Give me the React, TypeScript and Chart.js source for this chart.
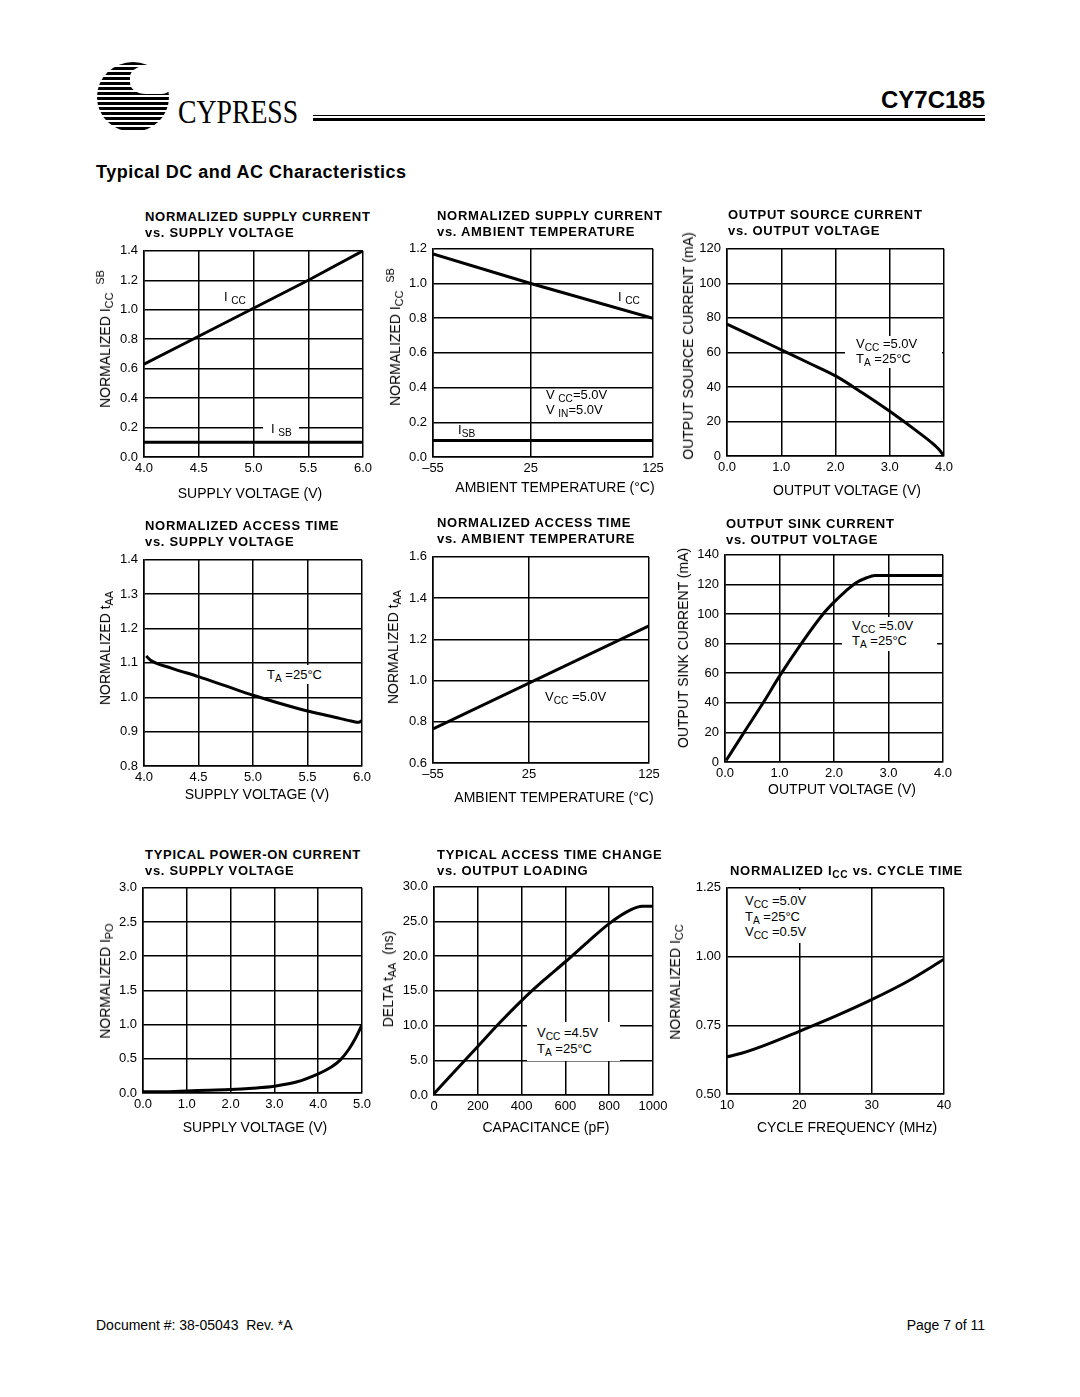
import React, { useEffect, useRef } from "react";
import { Chart, registerables } from "chart.js";

Chart.register(...registerables);

const FONT = '"Liberation Sans", Arial, Helvetica, sans-serif';

// ---------- Chart 1: Normalized supply current vs supply voltage ----------
const c1Voltage = [4.0, 4.5, 5.0, 5.5, 6.0];
const c1Icc = [0.63, 0.82, 1.01, 1.2, 1.4];
const c1Isb = [0.1, 0.1, 0.1, 0.1, 0.1];
const c1XTicks = [4.0, 4.5, 5.0, 5.5, 6.0];
const c1XLabels = ["4.0", "4.5", "5.0", "5.5", "6.0"];
const c1YTicks = [0, 0.2, 0.4, 0.6, 0.8, 1.0, 1.2, 1.4];
const c1YLabels = ["0.0", "0.2", "0.4", "0.6", "0.8", "1.0", "1.2", "1.4"];

// ---------- Chart 2: Normalized supply current vs ambient temperature ----------
const c2Temp = [-55, 25, 125];
const c2Icc = [1.17, 1.0, 0.8];
const c2Isb = [0.095, 0.095, 0.095];
const c2XTicks = [-55, 25, 125];
const c2XLabels = ["\u201355", "25", "125"];
const c2YTicks = [0, 0.2, 0.4, 0.6, 0.8, 1.0, 1.2];
const c2YLabels = ["0.0", "0.2", "0.4", "0.6", "0.8", "1.0", "1.2"];

// ---------- Chart 3: Output source current vs output voltage ----------
const c3Volt = [0, 0.5, 1.0, 1.5, 2.0, 2.5, 3.0, 3.5, 3.8, 3.9, 4.0];
const c3Source = [76.4, 69, 61.5, 54, 46.4, 36.5, 25.9, 14.4, 7, 4, 0];
const c3XTicks = [0, 1, 2, 3, 4];
const c3XLabels = ["0.0", "1.0", "2.0", "3.0", "4.0"];
const c3YTicks = [0, 20, 40, 60, 80, 100, 120];
const c3YLabels = ["0", "20", "40", "60", "80", "100", "120"];

// ---------- Chart 4: Normalized access time vs supply voltage ----------
const c4Voltage = [4.02, 4.06, 4.25, 4.5, 4.75, 5.0, 5.25, 5.5, 5.75, 5.9, 5.97, 6.0];
const c4Taa = [1.12, 1.108, 1.085, 1.06, 1.033, 1.006, 0.982, 0.96, 0.942, 0.931, 0.927, 0.932];
const c4XTicks = [4.0, 4.5, 5.0, 5.5, 6.0];
const c4XLabels = ["4.0", "4.5", "5.0", "5.5", "6.0"];
const c4YTicks = [0.8, 0.9, 1.0, 1.1, 1.2, 1.3, 1.4];
const c4YLabels = ["0.8", "0.9", "1.0", "1.1", "1.2", "1.3", "1.4"];

// ---------- Chart 5: Normalized access time vs ambient temperature ----------
const c5Temp = [-55, 125];
const c5Taa = [0.765, 1.265];
const c5XTicks = [-55, 25, 125];
const c5XLabels = ["\u201355", "25", "125"];
const c5YTicks = [0.6, 0.8, 1.0, 1.2, 1.4, 1.6];
const c5YLabels = ["0.6", "0.8", "1.0", "1.2", "1.4", "1.6"];

// ---------- Chart 6: Output sink current vs output voltage ----------
const c6Volt = [0.02, 0.35, 0.7, 1.0, 1.4, 1.8, 2.0, 2.2, 2.4, 2.6, 2.75, 4.0];
const c6Sink = [1, 20, 40, 58, 80, 100, 108, 115, 121, 124.5, 126, 126];
const c6XTicks = [0, 1, 2, 3, 4];
const c6XLabels = ["0.0", "1.0", "2.0", "3.0", "4.0"];
const c6YTicks = [0, 20, 40, 60, 80, 100, 120, 140];
const c6YLabels = ["0", "20", "40", "60", "80", "100", "120", "140"];

// ---------- Chart 7: Typical power-on current vs supply voltage ----------
const c7Voltage = [0, 0.5, 1.0, 1.5, 2.0, 2.5, 3.0, 3.5, 4.0, 4.3, 4.5, 4.7, 4.85, 5.0];
const c7Ipo = [0.02, 0.02, 0.03, 0.04, 0.05, 0.07, 0.1, 0.16, 0.28, 0.38, 0.48, 0.64, 0.8, 1.0];
const c7XTicks = [0, 1, 2, 3, 4, 5];
const c7XLabels = ["0.0", "1.0", "2.0", "3.0", "4.0", "5.0"];
const c7YTicks = [0, 0.5, 1.0, 1.5, 2.0, 2.5, 3.0];
const c7YLabels = ["0.0", "0.5", "1.0", "1.5", "2.0", "2.5", "3.0"];

// ---------- Chart 8: Typical access time change vs output loading ----------
const c8Cap = [0, 100, 200, 300, 400, 500, 600, 700, 800, 900, 950, 1000];
const c8Delta = [0.2, 3.6, 7.0, 10.4, 13.6, 16.5, 19.2, 22.0, 24.7, 26.7, 27.2, 27.2];
const c8XTicks = [0, 200, 400, 600, 800, 1000];
const c8XLabels = ["0", "200", "400", "600", "800", "1000"];
const c8YTicks = [0, 5, 10, 15, 20, 25, 30];
const c8YLabels = ["0.0", "5.0", "10.0", "15.0", "20.0", "25.0", "30.0"];

// ---------- Chart 9: Normalized ICC vs cycle time ----------
const c9Freq = [10, 12, 15, 20, 25, 30, 35, 40];
const c9Icc = [0.635, 0.648, 0.675, 0.728, 0.783, 0.843, 0.91, 0.99];
const c9XTicks = [10, 20, 30, 40];
const c9XLabels = ["10", "20", "30", "40"];
const c9YTicks = [0.5, 0.75, 1.0, 1.25];
const c9YLabels = ["0.50", "0.75", "1.00", "1.25"];

type Series = { xs: number[]; ys: number[]; width: number; smooth?: boolean };
type PanelProps = {
  box: [number, number, number, number];
  xTicks: number[];
  xLabels: string[];
  yTicks: number[];
  yLabels: string[];
  series: Series[];
};

const PAD_L = 50;
const PAD_T = 12;
const PAD_R = 24;
const PAD_B = 26;

function Panel({ box, xTicks, xLabels, yTicks, yLabels, series }: PanelProps) {
  const ref = useRef<HTMLCanvasElement>(null);
  const [L, T, W, H] = box;
  useEffect(() => {
    if (!ref.current) return;
    const chart = new Chart(ref.current, {
      type: "line",
      data: {
        datasets: series.map((s) => ({
          data: s.xs.map((x, i) => ({ x, y: s.ys[i] })),
          borderColor: "#000",
          borderWidth: s.width,
          pointRadius: 0,
          fill: false,
          tension: 0,
          cubicInterpolationMode: s.smooth ? "monotone" : "default",
        })),
      },
      options: {
        animation: false,
        responsive: false,
        devicePixelRatio: 1,
        layout: { padding: { left: 0, top: PAD_T, right: PAD_R, bottom: 0 } },
        plugins: { legend: { display: false }, tooltip: { enabled: false } },
        scales: {
          x: {
            type: "linear",
            min: xTicks[0],
            max: xTicks[xTicks.length - 1],
            afterBuildTicks: (s: any) => {
              s.ticks = xTicks.map((v) => ({ value: v }));
            },
            afterFit: (s: any) => {
              s.height = PAD_B;
            },
            grid: { color: "#000", lineWidth: 1.5, drawTicks: false },
            border: { color: "#000", width: 1.5 },
            ticks: {
              color: "#000",
              font: { family: FONT, size: 13 },
              padding: 4,
              maxRotation: 0,
              autoSkip: false,
              callback: (_v: any, i: number) => xLabels[i],
            },
          },
          y: {
            type: "linear",
            min: yTicks[0],
            max: yTicks[yTicks.length - 1],
            afterBuildTicks: (s: any) => {
              s.ticks = yTicks.map((v) => ({ value: v }));
            },
            afterFit: (s: any) => {
              s.width = PAD_L;
            },
            grid: { color: "#000", lineWidth: 1.5, drawTicks: false },
            border: { color: "#000", width: 1.5 },
            ticks: {
              color: "#000",
              font: { family: FONT, size: 13 },
              padding: 6,
              autoSkip: false,
              callback: (_v: any, i: number) => yLabels[i],
            },
          },
        },
      } as any,
    });
    return () => chart.destroy();
  }, []);
  return (
    <canvas
      ref={ref}
      width={W + PAD_L + PAD_R}
      height={H + PAD_T + PAD_B}
      style={{ position: "absolute", left: L - PAD_L, top: T - PAD_T }}
    />
  );
}

function Sub({ children }: { children: React.ReactNode }) {
  return (
    <span style={{ fontSize: "0.78em", position: "relative", top: "0.3em", lineHeight: 0 }}>{children}</span>
  );
}

function Txt({
  x,
  y,
  size = 13,
  bold = false,
  anchor = "start",
  children,
  spacing = 0,
}: {
  x: number;
  y: number;
  size?: number;
  bold?: boolean;
  anchor?: "start" | "middle" | "end";
  children: React.ReactNode;
  spacing?: number;
}) {
  const tx = anchor === "middle" ? "-50%" : anchor === "end" ? "-100%" : "0";
  return (
    <div
      style={{
        position: "absolute",
        left: x,
        top: y,
        transform: `translate(${tx}, -50%)`,
        fontSize: size,
        fontWeight: bold ? 700 : 400,
        whiteSpace: "nowrap",
        lineHeight: 1.15,
        letterSpacing: spacing,
        color: "#000",
      }}
    >
      {children}
    </div>
  );
}

function VTxt({ cx, cy, size = 14, children }: { cx: number; cy: number; size?: number; children: React.ReactNode }) {
  return (
    <div
      style={{
        position: "absolute",
        left: cx,
        top: cy,
        transform: "translate(-50%, -50%) rotate(-90deg)",
        fontSize: size,
        whiteSpace: "nowrap",
        lineHeight: 1.15,
        color: "#000",
      }}
    >
      {children}
    </div>
  );
}

function WhiteBox({ x, y, w, h }: { x: number; y: number; w: number; h: number }) {
  return <div style={{ position: "absolute", left: x, top: y, width: w, height: h, background: "#fff" }} />;
}

function Title({ x, y, lines }: { x: number; y: number; lines: React.ReactNode[] }) {
  return (
    <>
      {lines.map((l, i) => (
        <Txt key={i} x={x} y={y + i * 16} size={13} bold spacing={0.7}>
          {l}
        </Txt>
      ))}
    </>
  );
}

export default function App() {
  return (
    <div
      style={{
        position: "absolute",
        left: 0,
        top: 0,
        width: 1080,
        height: 1397,
        background: "#fff",
        fontFamily: FONT,
        color: "#000",
        overflow: "hidden",
      }}
    >
      {/* Header */}
      <div
        style={{
          position: "absolute",
          left: 97,
          top: 62,
          width: 72,
          height: 70,
          borderRadius: "50%",
          background: "repeating-linear-gradient(180deg, #000 0px, #000 3px, #fff 3px, #fff 5px)",
        }}
      />
      <div
        style={{
          position: "absolute",
          left: 130,
          top: 66,
          width: 40,
          height: 28,
          background: "#fff",
          borderRadius: "40% 60% 20% 40%",
        }}
      />
      <div
        style={{
          position: "absolute",
          left: 178,
          top: 112,
          transform: "translateY(-50%) scaleX(0.84)",
          transformOrigin: "left center",
          fontFamily: '"Liberation Serif", "DejaVu Serif", serif',
          fontSize: 33,
          lineHeight: 1,
          whiteSpace: "nowrap",
        }}
      >
        CYPRESS
      </div>
      <div style={{ position: "absolute", left: 313, top: 115, width: 672, height: 1, background: "#000" }} />
      <div style={{ position: "absolute", left: 313, top: 118, width: 672, height: 3, background: "#000" }} />
      <Txt x={985} y={100} size={24} bold anchor="end">
        CY7C185
      </Txt>
      <Txt x={96} y={172} size={18} bold spacing={0.5}>
        Typical DC and AC Characteristics
      </Txt>

      {/* Chart 1 */}
      <Panel
        box={[144, 249, 219, 208]}
        xTicks={c1XTicks}
        xLabels={c1XLabels}
        yTicks={c1YTicks}
        yLabels={c1YLabels}
        series={[
          { xs: c1Voltage, ys: c1Icc, width: 3 },
          { xs: c1Voltage, ys: c1Isb, width: 3 },
        ]}
      />
      <Title x={145} y={217} lines={["NORMALIZED SUPPLY  CURRENT", "vs. SUPPLY  VOLTAGE"]} />
      <WhiteBox x={263} y={421} w={36} h={18} />
      <Txt x={224} y={297} size={13}>
        I <Sub>CC</Sub>
      </Txt>
      <Txt x={271} y={429} size={13}>
        I <Sub>SB</Sub>
      </Txt>
      <VTxt cx={105} cy={339}>
        NORMALIZED I<Sub>CC</Sub>&nbsp;&nbsp;<span style={{ position: "relative", top: "-0.55em", fontSize: "0.78em" }}>SB</span>
      </VTxt>
      <Txt x={250} y={493} size={14} anchor="middle">
        SUPPLY VOLTAGE (V)
      </Txt>

      {/* Chart 2 */}
      <Panel
        box={[433, 247, 220, 210]}
        xTicks={c2XTicks}
        xLabels={c2XLabels}
        yTicks={c2YTicks}
        yLabels={c2YLabels}
        series={[
          { xs: c2Temp, ys: c2Icc, width: 3 },
          { xs: c2Temp, ys: c2Isb, width: 3 },
        ]}
      />
      <Title x={437} y={216} lines={["NORMALIZED SUPPLY CURRENT", "vs.  AMBIENT TEMPERATURE"]} />
      <Txt x={618} y={297} size={13}>
        I <Sub>CC</Sub>
      </Txt>
      <Txt x={546} y={395} size={13}>
        V <Sub>CC</Sub>=5.0V
      </Txt>
      <Txt x={546} y={410} size={13}>
        V <Sub>IN</Sub>=5.0V
      </Txt>
      <Txt x={458} y={430} size={13}>
        I<Sub>SB</Sub>
      </Txt>
      <VTxt cx={395} cy={337}>
        NORMALIZED I<Sub>CC</Sub>&nbsp;&nbsp;<span style={{ position: "relative", top: "-0.55em", fontSize: "0.78em" }}>SB</span>
      </VTxt>
      <Txt x={555} y={487} size={14} anchor="middle">
        AMBIENT TEMPERATURE (°C)
      </Txt>

      {/* Chart 3 */}
      <Panel
        box={[727, 247, 217, 209]}
        xTicks={c3XTicks}
        xLabels={c3XLabels}
        yTicks={c3YTicks}
        yLabels={c3YLabels}
        series={[{ xs: c3Volt, ys: c3Source, width: 3, smooth: true }]}
      />
      <Title x={728} y={215} lines={["OUTPUT SOURCE  CURRENT", "vs.  OUTPUT VOLTAGE"]} />
      <WhiteBox x={845} y={336} w={97} h={32} />
      <Txt x={856} y={344} size={13}>
        V<Sub>CC</Sub> =5.0V
      </Txt>
      <Txt x={856} y={359} size={13}>
        T<Sub>A</Sub> =25°C
      </Txt>
      <VTxt cx={688} cy={346}>
        OUTPUT SOURCE CURRENT (mA)
      </VTxt>
      <Txt x={847} y={490} size={14} anchor="middle">
        OUTPUT VOLTAGE (V)
      </Txt>

      {/* Chart 4 */}
      <Panel
        box={[144, 558, 218, 208]}
        xTicks={c4XTicks}
        xLabels={c4XLabels}
        yTicks={c4YTicks}
        yLabels={c4YLabels}
        series={[{ xs: c4Voltage, ys: c4Taa, width: 3, smooth: true }]}
      />
      <Title x={145} y={526} lines={["NORMALIZED ACCESS TIME", "vs. SUPPLY  VOLTAGE"]} />
      <WhiteBox x={263} y={665} w={66} h={19} />
      <Txt x={267} y={675} size={13}>
        T<Sub>A</Sub> =25°C
      </Txt>
      <VTxt cx={105} cy={648}>
        NORMALIZED t<Sub>AA</Sub>
      </VTxt>
      <Txt x={257} y={794} size={14} anchor="middle">
        SUPPLY VOLTAGE (V)
      </Txt>

      {/* Chart 5 */}
      <Panel
        box={[433, 555, 216, 208]}
        xTicks={c5XTicks}
        xLabels={c5XLabels}
        yTicks={c5YTicks}
        yLabels={c5YLabels}
        series={[{ xs: c5Temp, ys: c5Taa, width: 3 }]}
      />
      <Title x={437} y={523} lines={["NORMALIZED ACCESS TIME", "vs.  AMBIENT TEMPERATURE"]} />
      <Txt x={545} y={697} size={13}>
        V<Sub>CC</Sub> =5.0V
      </Txt>
      <VTxt cx={393} cy={647}>
        NORMALIZED t<Sub>AA</Sub>
      </VTxt>
      <Txt x={554} y={797} size={14} anchor="middle">
        AMBIENT TEMPERATURE (°C)
      </Txt>

      {/* Chart 6 */}
      <Panel
        box={[725, 553, 218, 209]}
        xTicks={c6XTicks}
        xLabels={c6XLabels}
        yTicks={c6YTicks}
        yLabels={c6YLabels}
        series={[{ xs: c6Volt, ys: c6Sink, width: 3, smooth: true }]}
      />
      <Title x={726} y={524} lines={["OUTPUT SINK CURRENT", "vs.  OUTPUT VOLTAGE"]} />
      <WhiteBox x={842} y={617} w={95} h={34} />
      <Txt x={852} y={626} size={13}>
        V<Sub>CC</Sub> =5.0V
      </Txt>
      <Txt x={852} y={641} size={13}>
        T<Sub>A</Sub> =25°C
      </Txt>
      <VTxt cx={683} cy={648}>
        OUTPUT SINK CURRENT (mA)
      </VTxt>
      <Txt x={842} y={789} size={14} anchor="middle">
        OUTPUT VOLTAGE (V)
      </Txt>

      {/* Chart 7 */}
      <Panel
        box={[143, 886, 219, 207]}
        xTicks={c7XTicks}
        xLabels={c7XLabels}
        yTicks={c7YTicks}
        yLabels={c7YLabels}
        series={[{ xs: c7Voltage, ys: c7Ipo, width: 3, smooth: true }]}
      />
      <Title x={145} y={855} lines={["TYPICAL POWER-ON  CURRENT", "vs. SUPPLY VOLTAGE"]} />
      <VTxt cx={105} cy={981}>
        NORMALIZED I<Sub>PO</Sub>
      </VTxt>
      <Txt x={255} y={1127} size={14} anchor="middle">
        SUPPLY VOLTAGE (V)
      </Txt>

      {/* Chart 8 */}
      <Panel
        box={[434, 885, 219, 210]}
        xTicks={c8XTicks}
        xLabels={c8XLabels}
        yTicks={c8YTicks}
        yLabels={c8YLabels}
        series={[{ xs: c8Cap, ys: c8Delta, width: 3, smooth: true }]}
      />
      <Title x={437} y={855} lines={["TYPICAL ACCESS TIME CHANGE", "vs. OUTPUT LOADING"]} />
      <WhiteBox x={527} y={1022} w={93} h={39} />
      <Txt x={537} y={1033} size={13}>
        V<Sub>CC</Sub> =4.5V
      </Txt>
      <Txt x={537} y={1049} size={13}>
        T<Sub>A</Sub> =25°C
      </Txt>
      <VTxt cx={388} cy={979}>
        DELTA t<Sub>AA</Sub>&nbsp;&nbsp;(ns)
      </VTxt>
      <Txt x={546} y={1127} size={14} anchor="middle">
        CAPACITANCE (pF)
      </Txt>

      {/* Chart 9 */}
      <Panel
        box={[727, 886, 217, 208]}
        xTicks={c9XTicks}
        xLabels={c9XLabels}
        yTicks={c9YTicks}
        yLabels={c9YLabels}
        series={[{ xs: c9Freq, ys: c9Icc, width: 3, smooth: true }]}
      />
      <Title
        x={730}
        y={871}
        lines={[
          <>
            NORMALIZED I<Sub>CC</Sub> vs. CYCLE TIME
          </>,
        ]}
      />
      <WhiteBox x={738} y={890} w={72} h={53} />
      <Txt x={745} y={901} size={13}>
        V<Sub>CC</Sub> =5.0V
      </Txt>
      <Txt x={745} y={917} size={13}>
        T<Sub>A</Sub> =25°C
      </Txt>
      <Txt x={745} y={932} size={13}>
        V<Sub>CC</Sub> =0.5V
      </Txt>
      <VTxt cx={675} cy={982}>
        NORMALIZED I<Sub>CC</Sub>
      </VTxt>
      <Txt x={847} y={1127} size={14} anchor="middle">
        CYCLE FREQUENCY (MHz)
      </Txt>

      {/* Footer */}
      <Txt x={96} y={1325} size={14}>
        Document #: 38-05043&nbsp;&nbsp;Rev. *A
      </Txt>
      <Txt x={985} y={1325} size={14} anchor="end">
        Page 7 of 11
      </Txt>
    </div>
  );
}
